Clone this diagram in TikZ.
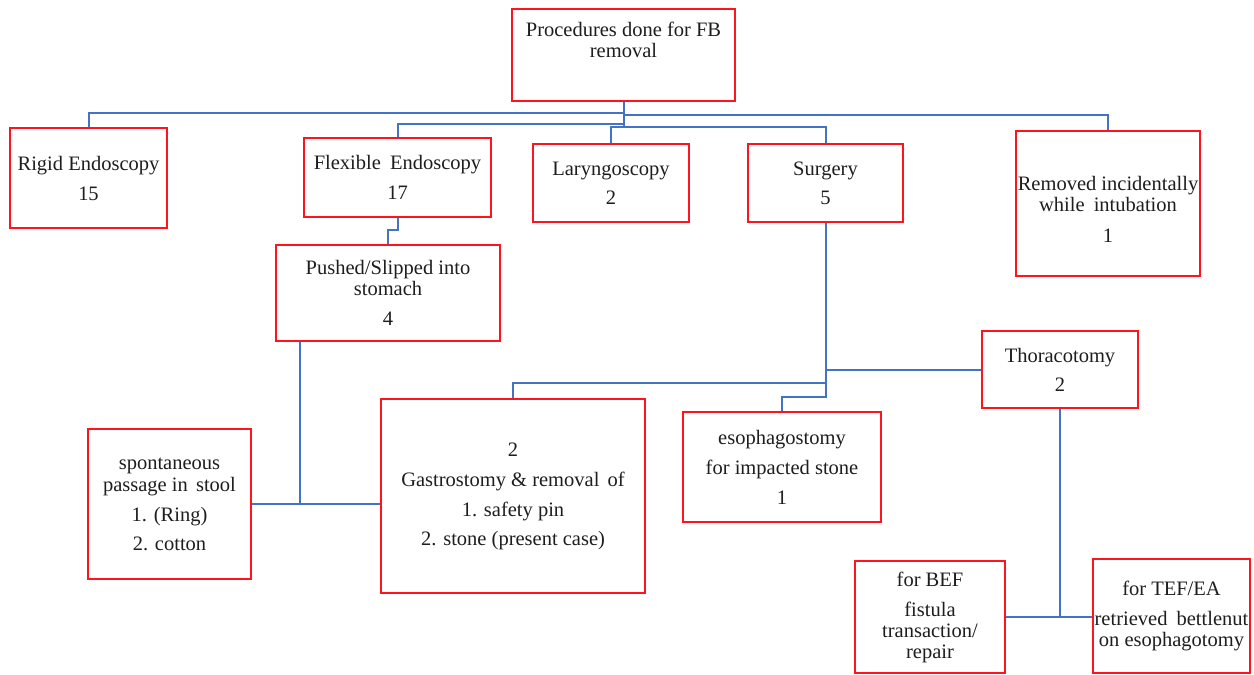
\documentclass[tikz,border=0pt]{standalone}
\usepackage{fontspec}
\setmainfont{Liberation Serif}
\definecolor{boxred}{RGB}{255,20,30}
\definecolor{connblue}{RGB}{68,114,196}
\definecolor{txtc}{RGB}{30,30,30}
\tikzset{
  box/.style={draw=boxred, line width=2.4pt, inner sep=0pt, align=center,
    text=txtc, font=\fontsize{20.5}{21}\selectfont},
  txt/.style={inner sep=0pt, align=center, text=txtc, font=\fontsize{20.5}{21}\selectfont},
  conn/.style={draw=connblue, line width=2pt}
}
\begin{document}
\begin{tikzpicture}[x=1pt,y=-1pt]
\useasboundingbox[fill=white] (0,0) rectangle (1254,675);

% boxes
\node[box, minimum width=223, minimum height=92] (top) at (623.5,55) {};
\node[txt] (toptxt) at (623.5,39.5) {Procedures done for FB\\removal};

\node[box, minimum width=157, minimum height=100] (rigid) at (88.5,178) {Rigid Endoscopy\\[9pt]15};
\node[box, minimum width=187, minimum height=79] (flex) at (397.5,177.5) {Flexible\hspace{4pt} Endoscopy\\[9pt]17};
\node[box, minimum width=156, minimum height=78] (laryn) at (611,183) {Laryngoscopy\\[8pt]2};
\node[box, minimum width=155, minimum height=78] (surg) at (825.5,183) {Surgery\\[8pt]5};
\node[box, minimum width=184, minimum height=145] (remv) at (1108,203.5) {};
\node[txt] (remvtxt) at (1108,209.5) {Removed incidentally\\while\hspace{4pt} intubation\\[10pt]1};

\node[box, minimum width=224, minimum height=96] (push) at (388,293) {Pushed/Slipped into\\stomach\\[9pt]4};
\node[box, minimum width=163, minimum height=150] (spont) at (169.5,504) {spontaneous\\[1pt]passage in\hspace{3pt} stool\\[9pt]1. (Ring)\\[8pt]2. cotton};
\node[box, minimum width=264, minimum height=194] (gast) at (513,496) {2\\[9pt]Gastrostomy \& removal\hspace{3pt} of\\[9pt]1. safety pin\\[8pt]2. stone (present case)};
\node[box, minimum width=198, minimum height=110] (esoph) at (782,467) {esophagostomy\\[9pt]for impacted stone\\[9pt]1};
\node[box, minimum width=156, minimum height=77] (thor) at (1060,369.5) {Thoracotomy\\[8pt]2};
\node[box, minimum width=150, minimum height=112] (bef) at (930,617) {for BEF\\[9pt]fistula\\transaction/\\repair};
\node[box, minimum width=157, minimum height=114] (tef) at (1171.5,616) {for TEF/EA\\[9pt]retrieved\hspace{4pt} bettlenut\\on esophagotomy};

% helper levels
\coordinate (hA) at (0,112.7);
\coordinate (hB) at (0,115.3);
\coordinate (hC) at (0,124);
\coordinate (hD) at (0,127);
\coordinate (hE) at (0,397);
\coordinate (hF) at (0,383);
\coordinate (pj) at (300,504);

% connectors
\draw[conn] (top.south) -- (top.south |- hD);
\draw[conn] (top.south |- hA) -| (rigid.north);
\draw[conn] (top.south |- hB) -| (remv.north);
\draw[conn] (top.south |- hC) -| (flex.north);
\draw[conn] (laryn.north) |- (surg.north |- hD) -- (surg.north);

\draw[conn] (flex.south) -- ++(0,12) -| (push.north);
\draw[conn] (push.south -| pj) -- (pj);
\draw[conn] (spont.east) -- (spont.east -| gast.west);

\draw[conn] (surg.south) -- (surg.south |- hE) -| (esoph.north);
\draw[conn] (surg.south |- thor.west) -- (thor.west);
\draw[conn] (surg.south |- hF) -| (gast.north);

\draw[conn] (thor.south) -- (thor.south |- bef.east);
\draw[conn] (bef.east) -- (bef.east -| tef.west);
\end{tikzpicture}
\end{document}
